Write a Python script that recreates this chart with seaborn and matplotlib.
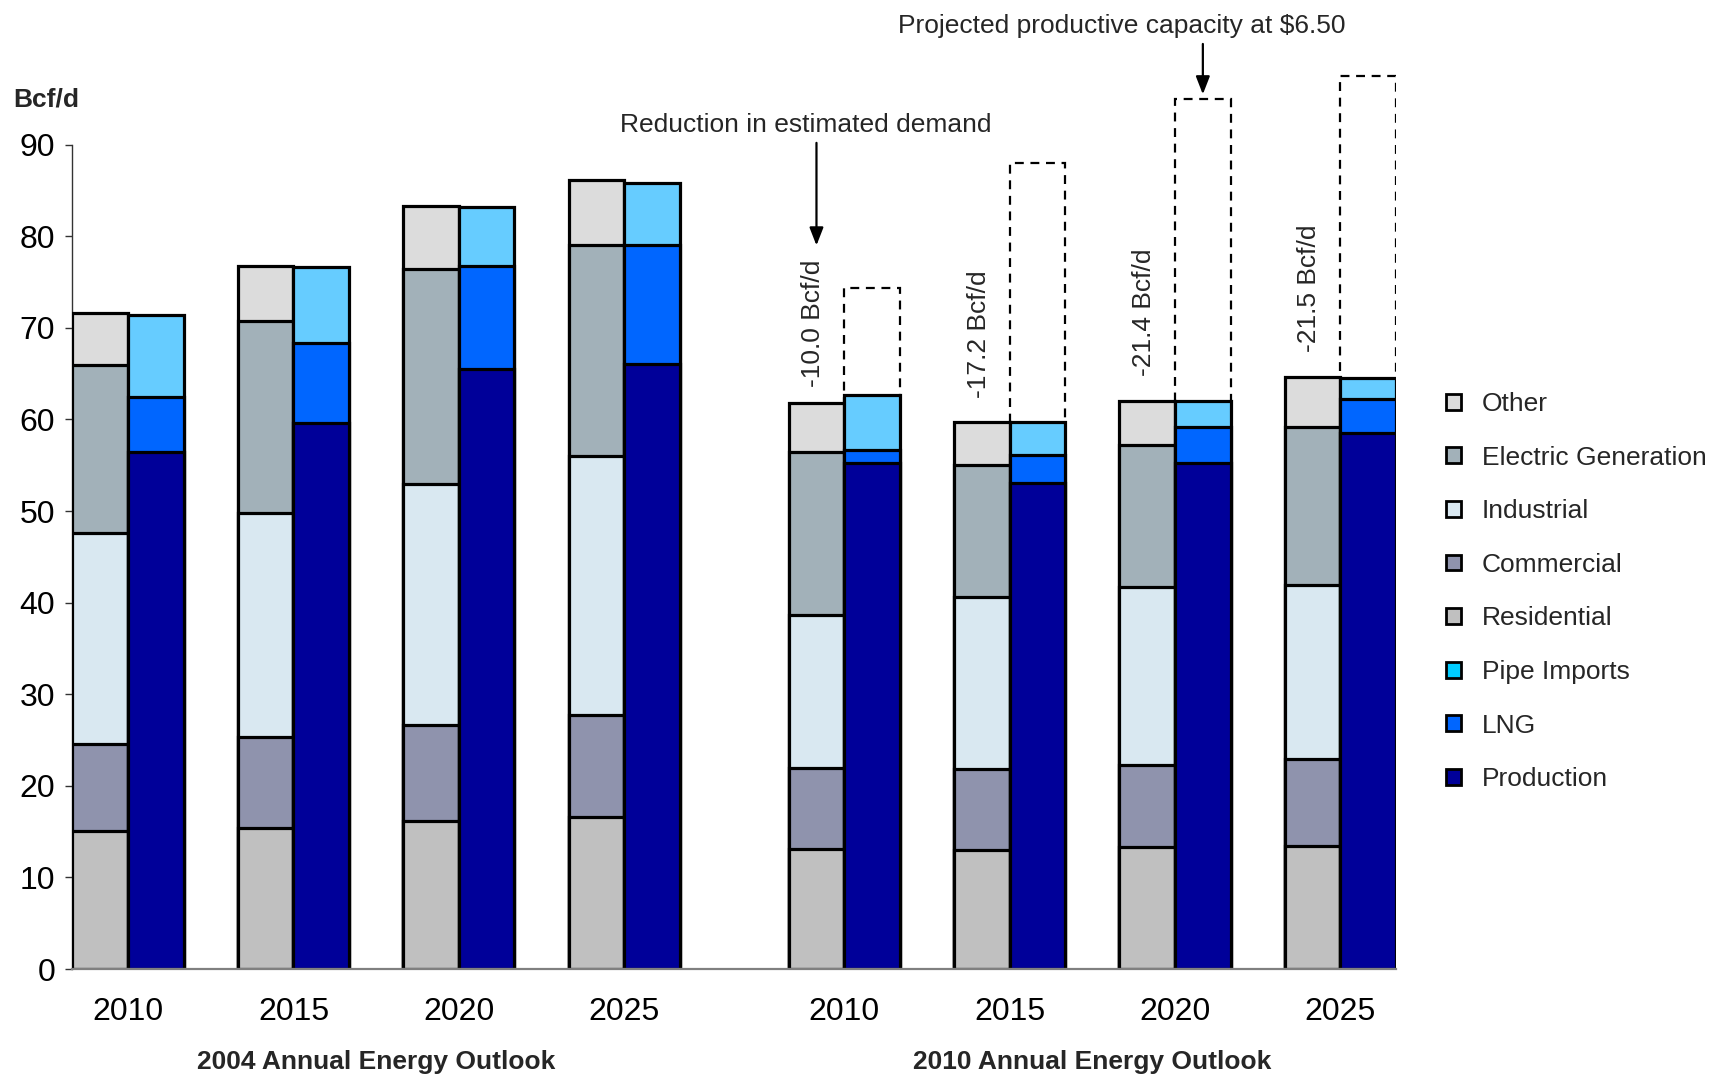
import numpy as np
import pandas as pd
import matplotlib
matplotlib.use("Agg")
import matplotlib.pyplot as plt
from matplotlib.patches import Patch
import seaborn as sns

# ---------------- data ----------------
years = ["2010", "2015", "2020", "2025"]
outlooks = ["2004 Annual Energy Outlook", "2010 Annual Energy Outlook"]

# demand components (Bcf/d), bottom to top
residential = {"2004": [15.1, 15.4, 16.2, 16.6], "2010": [13.1, 13.0, 13.3, 13.4]}
commercial = {"2004": [9.5, 9.9, 10.4, 11.1], "2010": [8.9, 8.8, 9.0, 9.5]}
industrial = {"2004": [23.0, 24.5, 26.3, 28.3], "2010": [16.6, 18.8, 19.4, 19.0]}
electric_gen = {"2004": [18.3, 21.0, 23.5, 23.1], "2010": [17.9, 14.4, 15.5, 17.3]}
other = {"2004": [5.7, 6.0, 6.9, 7.0], "2010": [5.3, 4.7, 4.8, 5.4]}

# supply components (Bcf/d), bottom to top
production = {"2004": [56.4, 59.6, 65.5, 66.1], "2010": [55.2, 53.1, 55.2, 58.5]}
lng = {"2004": [6.0, 8.7, 11.3, 13.0], "2010": [1.5, 3.0, 4.0, 3.7]}
pipe_imports = {"2004": [9.0, 8.3, 6.4, 6.7], "2010": [6.0, 3.6, 2.8, 2.3]}

# projected productive capacity at $6.50 (2010 outlook)
capacity_2010 = [74.4, 88.0, 95.0, 97.5]
reduction_labels = ["-10.0 Bcf/d", "-17.2 Bcf/d", "-21.4 Bcf/d", "-21.5 Bcf/d"]

demand_series = ["Residential", "Commercial", "Industrial", "Electric Generation", "Other"]
supply_series = ["Production", "LNG", "Pipe Imports"]
colors = {
    "Other": "#DCDCDC",
    "Electric Generation": "#A2B1B9",
    "Industrial": "#D9E8F1",
    "Commercial": "#8F93AD",
    "Residential": "#C0C0C0",
    "Pipe Imports": "#66CCFF",
    "LNG": "#0066FF",
    "Production": "#000099",
}
legend_colors = dict(colors, **{"Pipe Imports": "#00CCFF"})
legend_order = ["Other", "Electric Generation", "Industrial", "Commercial",
                "Residential", "Pipe Imports", "LNG", "Production"]

# ---------------- layout ----------------
sns.set_theme(style="white")
plt.rcParams["font.family"] = ["Liberation Sans", "DejaVu Sans"]

fig = plt.figure(figsize=(17.1, 10.75), dpi=100)
ax = fig.add_axes([0.0421, 0.0986, 0.7743, 0.852])

W = 0.336           # width of one bar (pair spacing = 1)
GAP = 0.33          # extra gap between the two outlooks
centers = {"2004": np.arange(4) * 1.0, "2010": np.arange(4) * 1.0 + 4 + GAP}

rows = []
for key in ["2004", "2010"]:
    dem = np.vstack([residential[key], commercial[key], industrial[key],
                     electric_gen[key], other[key]])
    sup = np.vstack([production[key], lng[key], pipe_imports[key]])
    dcum = np.cumsum(dem, axis=0)
    scum = np.cumsum(sup, axis=0)
    for j in range(4):
        for k, s in enumerate(demand_series):
            rows.append(dict(x=round(centers[key][j] - W / 2, 4), top=dcum[k, j],
                             series=s, side="demand"))
        for k, s in enumerate(supply_series):
            rows.append(dict(x=round(centers[key][j] + W / 2, 4), top=scum[k, j],
                             series=s, side="supply"))
df = pd.DataFrame(rows)

# dashed capacity boxes (behind the supply bars)
cap_df = pd.DataFrame({"x": np.round(centers["2010"] + W / 2, 4), "cap": capacity_2010})
sns.barplot(data=cap_df, x="x", y="cap", native_scale=True, width=W,
            fill=False, edgecolor="black", linewidth=1.6, linestyle=(0, (4, 3)),
            errorbar=None, ax=ax, zorder=1)

# stacked bars: draw cumulative totals from the top series down
for series_list in [demand_series, supply_series]:
    for s in reversed(series_list):
        sub = df[df.series == s]
        sns.barplot(data=sub, x="x", y="top", native_scale=True, width=W,
                    color=colors[s], saturation=1, edgecolor="black",
                    linewidth=2.3, errorbar=None, ax=ax, zorder=3)

ax.set_xlim(-W - 0.003, centers["2010"][-1] + W)
ax.set_ylim(0, 100)
ax.set_yticks(np.arange(0, 91, 10))
all_centers = np.concatenate([centers["2004"], centers["2010"]])
ax.set_xticks(all_centers)
ax.set_xticklabels(years + years)
ax.set_xlabel("")
ax.set_ylabel("")

for sp in ["top", "right"]:
    ax.spines[sp].set_visible(False)
ax.spines["left"].set_bounds(0, 90)
ax.spines["left"].set_color("#333333")
ax.spines["left"].set_linewidth(1.0)
ax.spines["bottom"].set_color("#808080")
ax.spines["bottom"].set_linewidth(1.6)
ax.spines["bottom"].set_zorder(5)

ax.tick_params(axis="y", which="both", left=True, length=5, width=1.0,
               color="#333333", labelsize=23, pad=7, labelcolor="black")
ax.tick_params(axis="x", bottom=False, labelsize=23, pad=14, labelcolor="black")

# axis unit label
fig.text(0.0075, 0.907, "Bcf/d", fontsize=19, fontweight="bold", ha="left", va="center")

# outlook titles
for key, title in zip(["2004", "2010"], outlooks):
    ax.text(centers[key].mean(), -10.2, title, ha="center", va="center",
            fontsize=19, fontweight="bold", clip_on=False)

# reduction labels above the 2010 outlook demand bars
dem_tops_2010 = (np.array(residential["2010"]) + np.array(commercial["2010"]) +
                 np.array(industrial["2010"]) + np.array(electric_gen["2010"]) +
                 np.array(other["2010"]))
label_offsets = [1.7, 2.6, 2.7, 2.8]
for j in range(4):
    ax.text(centers["2010"][j] - W / 2 - 0.02, dem_tops_2010[j] + label_offsets[j],
            reduction_labels[j], rotation=90, ha="center", va="bottom", fontsize=19)

# annotations with arrows
ax.annotate("", xy=(centers["2010"][0] - W / 2, 79.0), xytext=(centers["2010"][0] - W / 2, 90.2),
            arrowprops=dict(arrowstyle="-|>,head_length=0.9,head_width=0.35",
                            color="black", lw=1.6, shrinkA=0, shrinkB=0))
ax.text(4.10, 92.1, "Reduction in estimated demand", ha="center", va="center", fontsize=19)

ax.annotate("", xy=(centers["2010"][2] + W / 2, 95.5), xytext=(centers["2010"][2] + W / 2, 101.0),
            arrowprops=dict(arrowstyle="-|>,head_length=0.9,head_width=0.35",
                            color="black", lw=1.6, shrinkA=0, shrinkB=0),
            annotation_clip=False)
ax.text(6.01, 103.0, "Projected productive capacity at $6.50", ha="center", va="center",
        fontsize=19, clip_on=False)

# legend
handles = [Patch(facecolor=legend_colors[s], edgecolor="black", linewidth=2.0, label=s)
           for s in legend_order]
fig.legend(handles=handles, loc="upper left", bbox_to_anchor=(0.8395, 0.645),
           frameon=False, fontsize=19, handlelength=0.55, handleheight=0.55,
           handletextpad=0.8, labelspacing=1.12, borderaxespad=0)

fig.savefig("out.png", dpi=100, facecolor="white")
